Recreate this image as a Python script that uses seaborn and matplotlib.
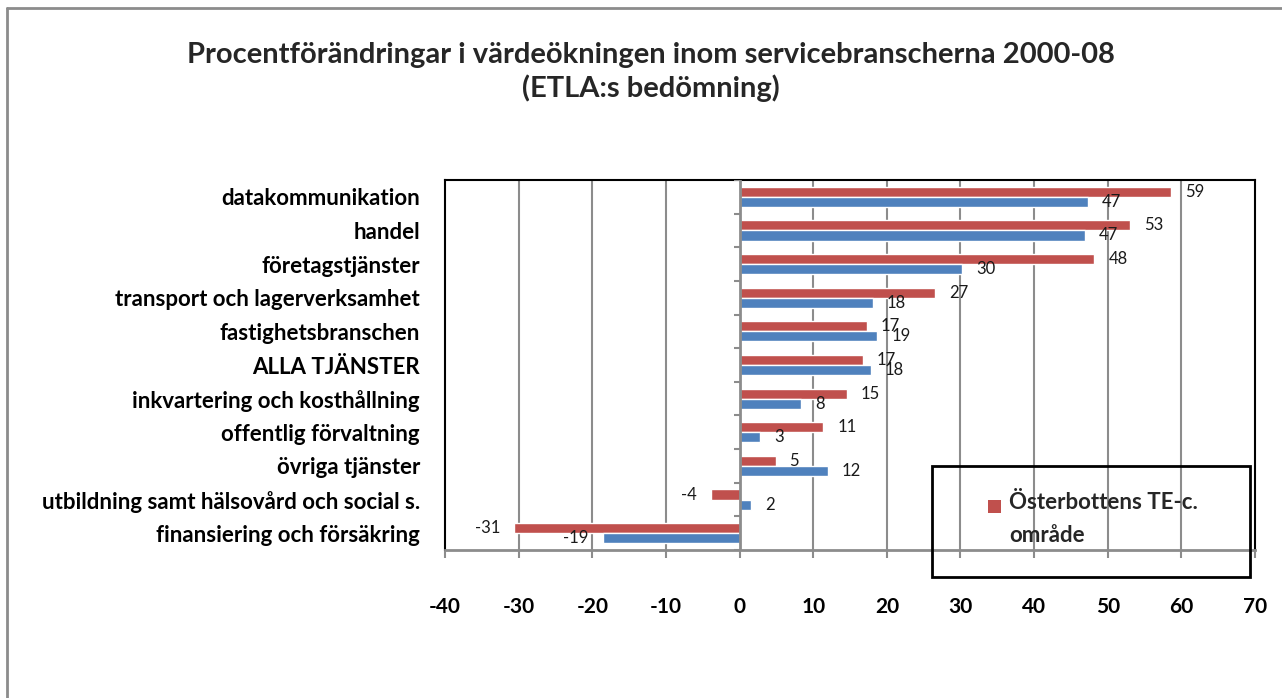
import numpy as np
import pandas as pd
import matplotlib
matplotlib.use("Agg")
import matplotlib.pyplot as plt
from matplotlib.patches import Rectangle
import seaborn as sns

categories = [
    "datakommunikation",
    "handel",
    "företagstjänster",
    "transport och lagerverksamhet",
    "fastighetsbranschen",
    "ALLA TJÄNSTER",
    "inkvartering och kosthållning",
    "offentlig förvaltning",
    "övriga tjänster",
    "utbildning samt hälsovård och social s.",
    "finansiering och försäkring",
]
series_names = ["Österbottens TE-c. område", "Hela landet"]
osterbotten = [58.6, 53.0, 48.2, 26.6, 17.3, 16.7, 14.6, 11.4, 4.9, -3.9, -30.6]
hela_landet = [47.3, 46.9, 30.2, 18.1, 18.7, 17.8, 8.4, 2.8, 12.0, 1.6, -18.6]
x_ticks = [-40, -30, -20, -10, 0, 10, 20, 30, 40, 50, 60, 70]
title = "Procentförändringar i värdeökningen inom servicebranscherna 2000-08\n(ETLA:s bedömning)"
legend_label = "Österbottens TE-c.\nområde"

RED = "#C0504D"
BLUE = "#4F81BD"
GRID = "#8C8C8C"

df = pd.DataFrame({
    "kategori": categories * 2,
    "serie": [series_names[0]] * len(categories) + [series_names[1]] * len(categories),
    "värde": osterbotten + hela_landet,
})

sns.set_theme(style="white")
FONT = ["Lato", "DejaVu Sans"]
plt.rcParams["font.family"] = FONT

fig = plt.figure(figsize=(12.82, 6.98), dpi=100)
ax = fig.add_axes([445 / 1282, 1 - 550 / 698, 810 / 1282, 370 / 698])

sns.barplot(data=df, y="kategori", x="värde", hue="serie", order=categories,
            hue_order=series_names, palette=[RED, BLUE], orient="h",
            width=0.6, gap=0, legend=False, ax=ax, saturation=1, zorder=3)

ax.set_xlim(x_ticks[0], x_ticks[-1])
ax.set_ylim(len(categories) - 0.5, -0.5)
ax.set_xticks(x_ticks)
ax.set_xticklabels([str(t) for t in x_ticks], fontsize=15, fontweight="bold", color="black")
ax.set_xlabel("")
ax.set_ylabel("")

# grid lines
for t in x_ticks[1:-1]:
    if t != 0:
        ax.axvline(t, color=GRID, lw=1.5, zorder=1)
ax.axvline(0, color=GRID, lw=2, zorder=4)

# category tick marks on the zero axis
for b in np.arange(-0.5, len(categories), 1.0):
    ax.plot([-0.75, 0], [b, b], color=GRID, lw=1.5, zorder=4, solid_capstyle="butt")

# y labels
ax.set_yticks(range(len(categories)))
ax.set_yticklabels(categories, fontsize=16, fontweight="bold", color="black")
ax.tick_params(axis="y", length=0, pad=18)
ax.tick_params(axis="x", length=6, width=1.5, color=GRID, direction="out", pad=28, bottom=True)

for s in ["left", "top", "right"]:
    ax.spines[s].set_color("black")
    ax.spines[s].set_linewidth(1.5)
ax.spines["bottom"].set_color(GRID)
ax.spines["bottom"].set_linewidth(2)

for cont in ax.containers:
    ax.bar_label(cont, fmt="%.0f", padding=10, fontsize=12, color="#1a1a1a")

fig.text(651 / 1282, 1 - 72 / 698, title, ha="center", va="center",
         fontsize=21, fontweight="bold", linespacing=1.25)

# legend box
fig.patches.append(Rectangle((932 / 1282, 1 - 577 / 698), 318 / 1282, 111 / 698,
                             transform=fig.transFigure, fill=False, ec="black", lw=2, zorder=10))
fig.patches.append(Rectangle((988 / 1282, 1 - 513 / 698), 13 / 1282, 13 / 698,
                             transform=fig.transFigure, fc=RED, ec="none", zorder=10))
fig.text(1009 / 1282, 1 - 492 / 698, legend_label, ha="left", va="top",
         fontsize=16, fontweight="bold", linespacing=1.7, zorder=10)

# outer border (top and left)
fig.add_artist(plt.Line2D([7 / 1282, 1], [1 - 8 / 698, 1 - 8 / 698], transform=fig.transFigure,
                          color="#8C8C8C", lw=2))
fig.add_artist(plt.Line2D([7 / 1282, 7 / 1282], [0, 1 - 8 / 698], transform=fig.transFigure,
                          color="#8C8C8C", lw=2))

fig.savefig("out.png", dpi=100)
